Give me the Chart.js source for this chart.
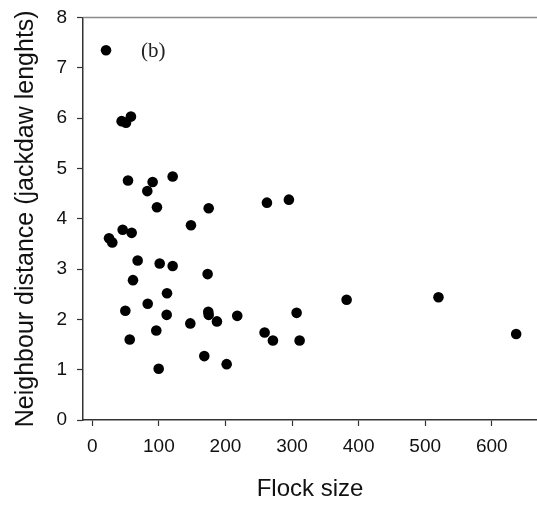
<!DOCTYPE html>
<html>
<head>
<meta charset="utf-8">
<script src="https://cdn.jsdelivr.net/npm/chart.js@4.4.0/dist/chart.umd.min.js"></script>
<style>
  html, body { margin: 0; padding: 0; background: #fff; overflow: hidden; }
</style>
</head>
<body>
<canvas id="scatter" width="537" height="508"></canvas>
<script>
// Flock size vs. nearest neighbour distance, panel (b)
const flockSize = [20.6, 44, 50.6, 58, 53.6, 82.6, 90.6, 120.7, 97.1, 148.2, 174.8, 262.3, 295.3,
    25.1, 30, 45.6, 59.1, 68.1, 101.2, 120.7, 61.1, 173.2, 112.2, 83.2, 49.6, 111.7, 147.2,
    96.1, 56.2, 99.7, 174.2, 174.8, 187.2, 217.7, 168.2, 201.8, 258.8, 271.3, 382, 306.9,
    311.4, 520, 636.7];
const neighbourDist = [7.35, 5.94, 5.91, 6.03, 4.76, 4.55, 4.73, 4.84, 4.23, 3.87, 4.21, 4.32, 4.38,
    3.61, 3.53, 3.78, 3.72, 3.17, 3.11, 3.06, 2.78, 2.90, 2.52, 2.31, 2.17, 2.09, 1.92,
    1.78, 1.60, 1.02, 2.15, 2.09, 1.96, 2.07, 1.27, 1.11, 1.74, 1.58, 2.39, 2.13,
    1.58, 2.44, 1.71];
const xTicks = [0, 100, 200, 300, 400, 500, 600];
const yTicks = [0, 1, 2, 3, 4, 5, 6, 7, 8];
const panelLabel = '(b)';

const points = flockSize.map((x, i) => ({ x: x, y: neighbourDist[i] }));

// let the plot run to the right edge of the canvas, like the original figure
const stretchRight = {
    id: 'stretchRight',
    afterLayout(chart) {
        const x = chart.scales.x;
        chart.chartArea.right = chart.width;
        chart.chartArea.width = chart.chartArea.right - chart.chartArea.left;
        x.right = chart.width;
        x.width = x.right - x.left;
        x.configure();
    }
};

const frameAndLabel = {
    id: 'frameAndLabel',
    afterDraw(chart) {
        const ctx = chart.ctx;
        const area = chart.chartArea;
        ctx.save();
        // top frame line
        ctx.strokeStyle = '#8a8a8a';
        ctx.lineWidth = 1.5;
        ctx.beginPath();
        ctx.moveTo(area.left, area.top);
        ctx.lineTo(area.right, area.top);
        ctx.stroke();
        // panel label
        ctx.fillStyle = '#222';
        ctx.font = '21px "Liberation Serif", "Times New Roman", serif';
        ctx.textBaseline = 'middle';
        ctx.fillText(panelLabel, chart.scales.x.getPixelForValue(73), chart.scales.y.getPixelForValue(7.33));
        ctx.restore();
    }
};

new Chart(document.getElementById('scatter').getContext('2d'), {
    type: 'scatter',
    data: {
        datasets: [{
            data: points,
            backgroundColor: '#000',
            borderColor: '#000',
            borderWidth: 0,
            pointRadius: 5.3,
            pointHoverRadius: 5.3
        }]
    },
    options: {
        responsive: false,
        animation: false,
        layout: { padding: { top: 17.5, right: 0, left: 0, bottom: 0 } },
        plugins: {
            legend: { display: false },
            tooltip: { enabled: false }
        },
        scales: {
            x: {
                type: 'linear',
                min: -14,
                max: 668,
                afterBuildTicks: axis => { axis.ticks = xTicks.map(v => ({ value: v })); },
                afterFit: axis => {
                    axis.height = 88;
                    axis.paddingLeft = 0;
                    axis.paddingRight = 0;
                },
                grid: { drawOnChartArea: false, drawTicks: true, tickLength: 6, color: '#333', tickWidth: 1.2 },
                border: { color: '#333', width: 1.5 },
                ticks: {
                    color: '#111',
                    padding: 9,
                    maxRotation: 0,
                    font: { family: 'Liberation Sans, Arial, sans-serif', size: 19 }
                },
                title: {
                    display: true,
                    text: 'Flock size',
                    color: '#111',
                    padding: { top: 0, bottom: 4 },
                    font: { family: 'Liberation Sans, Arial, sans-serif', size: 24 }
                }
            },
            y: {
                type: 'linear',
                min: 0,
                max: 8,
                afterBuildTicks: axis => { axis.ticks = yTicks.map(v => ({ value: v })); },
                afterFit: axis => {
                    axis.width = 83;
                    axis.paddingTop = 0;
                    axis.paddingBottom = 0;
                },
                grid: { drawOnChartArea: false, drawTicks: true, tickLength: 6, color: '#333', tickWidth: 1.2 },
                border: { color: '#333', width: 1.5 },
                ticks: {
                    color: '#111',
                    padding: 10,
                    font: { family: 'Liberation Sans, Arial, sans-serif', size: 19 }
                },
                title: {
                    display: true,
                    text: 'Neighbour distance (jackdaw lenghts)',
                    color: '#111',
                    padding: { top: 11, bottom: 0 },
                    font: { family: 'Liberation Sans, Arial, sans-serif', size: 25 }
                }
            }
        }
    },
    plugins: [stretchRight, frameAndLabel]
});
</script>
</body>
</html>
